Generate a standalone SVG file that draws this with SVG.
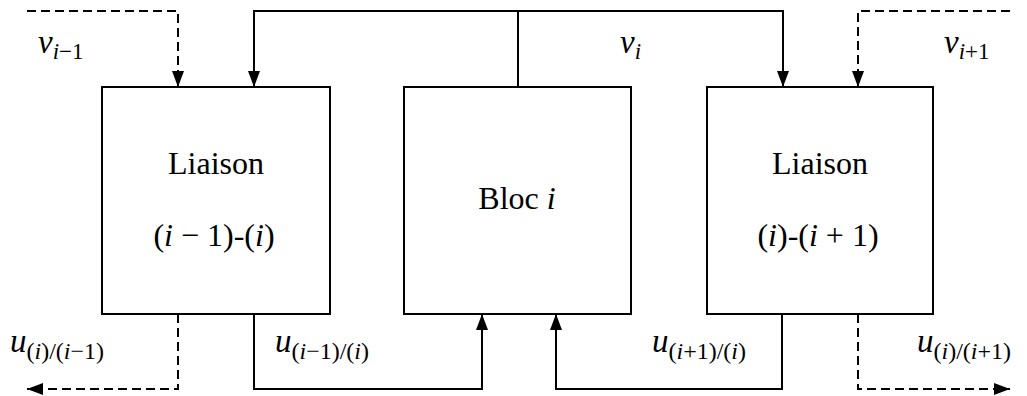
<svg xmlns="http://www.w3.org/2000/svg" width="1027" height="396" viewBox="0 0 1027 396" font-family="Liberation Serif, serif">
<defs>
<marker id="ah" markerUnits="userSpaceOnUse" markerWidth="16" markerHeight="12" refX="16" refY="6" orient="auto" viewBox="0 0 16 12">
<path d="M0,0 L16,6 L0,12 z" fill="#000"/>
</marker>
</defs>
<g id="connectors" fill="none" stroke="#000" stroke-width="2">
<path d="M518,87 V11 H254 V87" marker-end="url(#ah)"/>
<path d="M518,11 H783 V87" marker-end="url(#ah)"/>
<path stroke-dasharray="9 5" d="M27,11 H178 V87" marker-end="url(#ah)"/>
<path stroke-dasharray="9 5" d="M1010,11 H858 V87" marker-end="url(#ah)"/>
<path stroke-dasharray="9 5" d="M178,314 V389 H27" marker-end="url(#ah)"/>
<path d="M254,314 V389 H482 V314" marker-end="url(#ah)"/>
<path d="M782,314 V389 H556 V314" marker-end="url(#ah)"/>
<path stroke-dasharray="9 5" d="M858,314 V389 H1010" marker-end="url(#ah)"/>
</g>
<g id="labels" fill="#000" font-family="Liberation Serif" font-size="33">
<text x="38" y="53"><tspan font-style="italic">v</tspan><tspan font-style="italic" font-size="23" dy="6">i</tspan><tspan font-size="23">&#8722;1</tspan></text>
<text x="620" y="53"><tspan font-style="italic">v</tspan><tspan font-style="italic" font-size="23" dy="6">i</tspan></text>
<text x="944" y="53"><tspan font-style="italic">v</tspan><tspan font-style="italic" font-size="23" dy="6">i</tspan><tspan font-size="23">+1</tspan></text>
<text x="10" y="352"><tspan font-style="italic">u</tspan><tspan font-size="24" dy="7">(<tspan font-style="italic">i</tspan>)/(<tspan font-style="italic">i</tspan>&#8722;1)</tspan></text>
<text x="275" y="352"><tspan font-style="italic">u</tspan><tspan font-size="24" dy="7">(<tspan font-style="italic">i</tspan>&#8722;1)/(<tspan font-style="italic">i</tspan>)</tspan></text>
<text x="652" y="352"><tspan font-style="italic">u</tspan><tspan font-size="24" dy="7">(<tspan font-style="italic">i</tspan>+1)/(<tspan font-style="italic">i</tspan>)</tspan></text>
<text x="917" y="352"><tspan font-style="italic">u</tspan><tspan font-size="24" dy="7">(<tspan font-style="italic">i</tspan>)/(<tspan font-style="italic">i</tspan>+1)</tspan></text>
</g>
<g id="liaison-left" font-family="Liberation Serif" font-size="32">
<rect x="102" y="87" width="228" height="227" fill="#fff" stroke="#000" stroke-width="2"/>
<text x="216" y="174" text-anchor="middle">Liaison</text>
<text x="214" y="246" text-anchor="middle">(<tspan font-style="italic">i</tspan> &#8722; 1)-(<tspan font-style="italic">i</tspan>)</text>
</g>
<g id="bloc" font-family="Liberation Serif" font-size="32">
<rect x="404" y="87" width="227" height="227" fill="#fff" stroke="#000" stroke-width="2"/>
<text x="517" y="209" text-anchor="middle">Bloc <tspan font-style="italic">i</tspan></text>
</g>
<g id="liaison-right" font-family="Liberation Serif" font-size="32">
<rect x="707" y="87" width="226" height="227" fill="#fff" stroke="#000" stroke-width="2"/>
<text x="820" y="174" text-anchor="middle">Liaison</text>
<text x="818" y="246" text-anchor="middle">(<tspan font-style="italic">i</tspan>)-(<tspan font-style="italic">i</tspan> + 1)</text>
</g>
</svg>
